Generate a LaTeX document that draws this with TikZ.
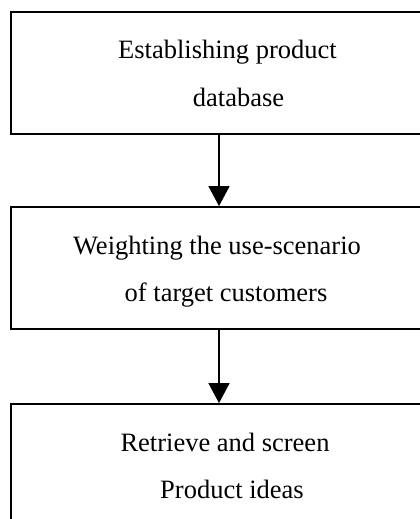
\documentclass[tikz,border=0pt]{standalone}
\usepackage{fontspec}
\setmainfont{Liberation Serif}
\usetikzlibrary{arrows.meta}

\tikzset{
  stepbox/.style={draw, line width=1.8pt, minimum width=416pt, minimum height=122pt, inner sep=0pt},
  boxtext/.style={anchor=base, inner sep=0pt, font=\fontsize{26.5}{30}\selectfont},
  flow/.style={line width=1.3pt, -{Triangle[length=20pt, width=21pt]}}
}

\begin{document}
\begin{tikzpicture}[x=1pt, y=-1pt]
  \useasboundingbox (0,0) rectangle (420,519);
  \clip (0,0) rectangle (420,519);
  \fill[white] (0,0) rectangle (420,519);

  % three process boxes (right and bottom edges run off the page)
  \node[stepbox] (b1) at (219,73) {};
  \node[stepbox] (b2) at (219,268) {};
  \node[stepbox] (b3) at (219,465) {};

  % box captions
  \node[boxtext] (b1a) at (227.5,59) {Establishing product};
  \node[boxtext] (b1b) at (238.5,106) {database};
  \node[boxtext] (b2a) at (217,254) {Weighting the use-scenario};
  \node[boxtext] (b2b) at (226,301) {of target customers};
  \node[boxtext] (b3a) at (225,451) {Retrieve and screen};
  \node[boxtext] (b3b) at (232,498) {Product ideas};

  % flow arrows
  \draw[flow] (b1.south) -- (b2.north);
  \draw[flow] (b2.south) -- (b3.north);
\end{tikzpicture}
\end{document}
